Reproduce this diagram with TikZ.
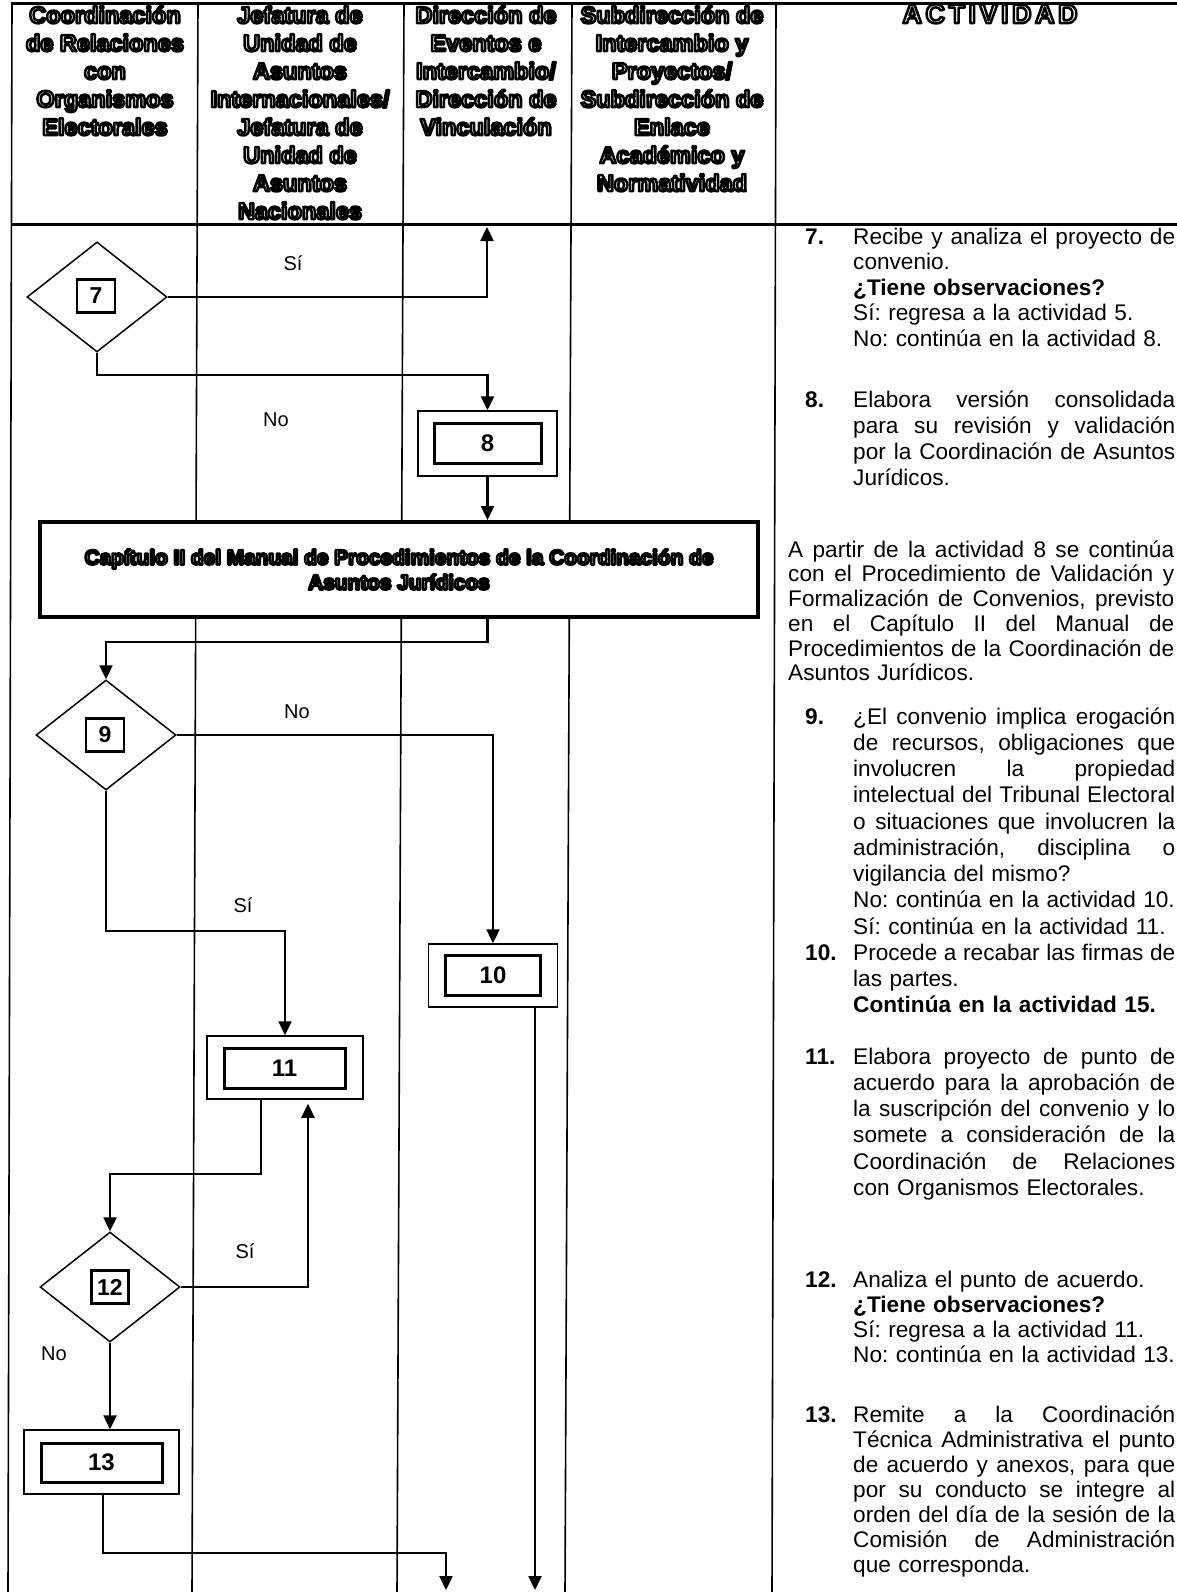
\documentclass[tikz,border=0pt]{standalone}
\usepackage{fontspec}
\setmainfont{Liberation Sans}
\usetikzlibrary{shapes.geometric,arrows.meta}
\frenchspacing
\newcommand\outl{\special{pdf:literal direct 2 Tr 2.5 w 1 j 1 J 0 G 1 g}}
\newcommand\outlend{\special{pdf:literal direct 0 Tr 0 g}}
\newcommand\jline[1]{{\spaceskip=0pt\xspaceskip=0pt\makebox[322pt][s]{#1}}}
\newcommand\jlinea[1]{{\spaceskip=0pt\xspaceskip=0pt\makebox[386pt][s]{#1}}}
\newcommand\fst{\rule{0pt}{18pt}}
\tikzset{
  lane/.style={line width=1.6pt},
  hline/.style={line width=3pt},
  hdr/.style={anchor=north, inner sep=0, align=center, font=\fontsize{23.5}{28}\selectfont\bfseries},
  dec/.style={diamond, draw, line width=1.5pt, minimum width=140pt, minimum height=110pt, inner sep=0},
  numbox/.style={draw, line width=2.6pt, inner sep=0, minimum width=38pt, minimum height=33pt, font=\fontsize{23}{23}\selectfont\bfseries},
  outerbox/.style={draw, line width=1.5pt, inner sep=0, fill=white},
  innerbox/.style={draw, line width=3pt, inner sep=0, font=\fontsize{24}{24}\selectfont\bfseries},
  capbox/.style={draw, line width=4pt, fill=white, inner sep=0, align=center, minimum width=718pt, minimum height=95pt, font=\fontsize{20.8}{25}\selectfont\bfseries},
  flow/.style={line width=2.4pt, -{Triangle[width=13pt,length=14pt]}},
  lbl/.style={inner sep=0, font=\fontsize{20}{20}\selectfont},
  num/.style={anchor=base west, inner sep=0, font=\fontsize{22.6}{25}\selectfont\bfseries},
  para/.style={anchor=north west, inner sep=0, align=left, text width=330pt, font=\fontsize{22.6}{#1}\selectfont},
}
\begin{document}
\begin{tikzpicture}[x=1pt,y=-1pt]
\useasboundingbox (0,0) rectangle (1177,1592);
% table frame
\draw[hline] (11,4) -- (1177,4);
\draw[hline] (11,224) -- (1177,224);
\draw[lane] (12,4) -- (8,1592);
\draw[lane] (198,4) -- (192,1592);
\draw[lane] (404,4) -- (397,1592);
\draw[lane] (572,4) -- (565,1592);
\draw[lane] (776,4) -- (772,1592);
% headers
\node[hdr] (h1) at (105,3) {\outl\rule{0pt}{20pt}Coordinación\\de Relaciones\\con\\Organismos\\Electorales\outlend};
\node[hdr] (h2) at (300,3) {\outl\rule{0pt}{20pt}Jefatura de\\Unidad de\\Asuntos\\Internacionales/\\Jefatura de\\Unidad de\\Asuntos\\Nacionales\outlend};
\node[hdr] (h3) at (486,3) {\outl\rule{0pt}{20pt}Dirección de\\Eventos e\\Intercambio/\\Dirección de\\Vinculación\outlend};
\node[hdr] (h4) at (672,3) {\outl\rule{0pt}{20pt}Subdirección de\\Intercambio y\\Proyectos/\\Subdirección de\\Enlace\\Académico y\\Normatividad\outlend};
\node[hdr, font=\fontsize{27}{28}\selectfont\bfseries] (h5) at (990,3) {\outl\rule{0pt}{20pt}\addfontfeature{LetterSpace=13}ACTIVIDAD\outlend};
% flow nodes
\node[dec] (d7) at (97,297) {};
\node[numbox] (k7) at (96,296) {7};
\coordinate (up7) at (487,227);
\node[outerbox, minimum width=139pt, minimum height=65pt] (b8) at (487.5,443.5) {};
\node[innerbox, minimum width=107pt, minimum height=40pt] (b8i) at (487.5,443) {8};
\node[capbox] (cap) at (399,569.5) {\outl Capítulo II del Manual de Procedimientos de la Coordinación de\\Asuntos Jurídicos\outlend};
\node[dec] (d9) at (106,735) {};
\node[numbox] (k9) at (105,735) {9};
\node[outerbox, minimum width=129pt, minimum height=63pt] (b10) at (493,975.5) {};
\node[innerbox, minimum width=95pt, minimum height=40pt] (b10i) at (493,975) {10};
\node[outerbox, minimum width=156pt, minimum height=63pt] (b11) at (285,1067.5) {};
\node[innerbox, minimum width=121pt, minimum height=40pt] (b11i) at (284.5,1068) {11};
\node[dec] (d12) at (110,1287) {};
\node[numbox, minimum width=37pt] (k12) at (110,1287) {12};
\node[outerbox, minimum width=155pt, minimum height=64pt] (b13) at (101.5,1462) {};
\node[innerbox, minimum width=121pt, minimum height=39pt] (b13i) at (101.5,1462.5) {13};
\coordinate (e13) at (446,1590);
\coordinate (e10) at (535,1590);
% connectors
\draw[flow] (d7.east) -| (up7);
\draw[flow] (d7.south) -- ++(0,22) -| (b8.north);
\draw[flow] (b8.south) -- (b8.south |- cap.north);
\draw[flow] (cap.south -| b8.south) -- ++(0,23) -| (d9.north);
\draw[flow] (d9.east) -| (b10.north);
\draw[flow] (d9.south) -- ++(0,140) -| (b11.north);
\draw[flow] ([xshift=-24pt]b11.south) -- ++(0,74) -| (d12.north);
\draw[flow] (d12.east) -| ([xshift=23pt,yshift=-4pt]b11.south);
\draw[flow] (d12.south) -- (d12.south |- b13.north);
\draw[flow] ([xshift=1.5pt]b13.south) -- ++(0,58) -| (e13);
\draw[flow] ([xshift=42pt]b10.south) -- (e10);
% labels
\node[lbl] (s7) at (293,263) {Sí};
\node[lbl] (n7) at (276,420) {No};
\node[lbl] (n9) at (297,712) {No};
\node[lbl] (s9) at (243,905) {Sí};
\node[lbl] (s12) at (245,1251) {Sí};
\node[lbl] (n12) at (54,1354) {No};
% activity text
\node[num] (m7) at (805,244) {7.};
\node[para=25.5] (p7) at (853,226) {\fst\jline{Recibe y analiza el proyecto de}\\convenio.\\\textbf{¿Tiene observaciones?}\\Sí: regresa a la actividad 5.\\No: continúa en la actividad 8.};
\node[num] (m8) at (805,407) {8.};
\node[para=26] (p8) at (853,389) {\fst\jline{Elabora versión consolidada}\\\jline{para su revisión y validación}\\\jline{por la Coordinación de Asuntos}\\Jurídicos.};
\node[para=24.7, text width=395pt] (pa) at (788,539) {\fst\jlinea{A partir de la actividad 8 se continúa}\\\jlinea{con el Procedimiento de Validación y}\\\jlinea{Formalización de Convenios, previsto}\\\jlinea{en el Capítulo II del Manual de}\\\jlinea{Procedimientos de la Coordinación de}\\Asuntos Jurídicos.};
\node[num] (m9) at (805,724) {9.};
\node[para=26.25] (p9) at (853,706) {\fst\jline{¿El convenio implica erogación}\\\jline{de recursos, obligaciones que}\\\jline{involucren la propiedad}\\\jline{intelectual del Tribunal Electoral}\\\jline{o situaciones que involucren la}\\\jline{administración, disciplina o}\\vigilancia del mismo?\\No: continúa en la actividad 10.\\Sí: continúa en la actividad 11.};
\node[num] (m10) at (805,960) {10.};
\node[para=26] (p10) at (853,942) {\fst\jline{Procede a recabar las firmas de}\\las partes.\\\textbf{Continúa en la actividad 15.}};
\node[num] (m11) at (805,1064) {11.};
\node[para=26.2] (p11) at (853,1046) {\fst\jline{Elabora proyecto de punto de}\\\jline{acuerdo para la aprobación de}\\\jline{la suscripción del convenio y lo}\\\jline{somete a consideración de la}\\\jline{Coordinación de Relaciones}\\con Organismos Electorales.};
\node[num] (m12) at (805,1287) {12.};
\node[para=25] (p12) at (853,1269) {\fst Analiza el punto de acuerdo.\\\textbf{¿Tiene observaciones?}\\Sí: regresa a la actividad 11.\\No: continúa en la actividad 13.};
\node[num] (m13) at (805,1422) {13.};
\node[para=25] (p13) at (853,1404) {\fst\jline{Remite a la Coordinación}\\\jline{Técnica Administrativa el punto}\\\jline{de acuerdo y anexos, para que}\\\jline{por su conducto se integre al}\\\jline{orden del día de la sesión de la}\\\jline{Comisión de Administración}\\que corresponda.};
\end{tikzpicture}
\end{document}
